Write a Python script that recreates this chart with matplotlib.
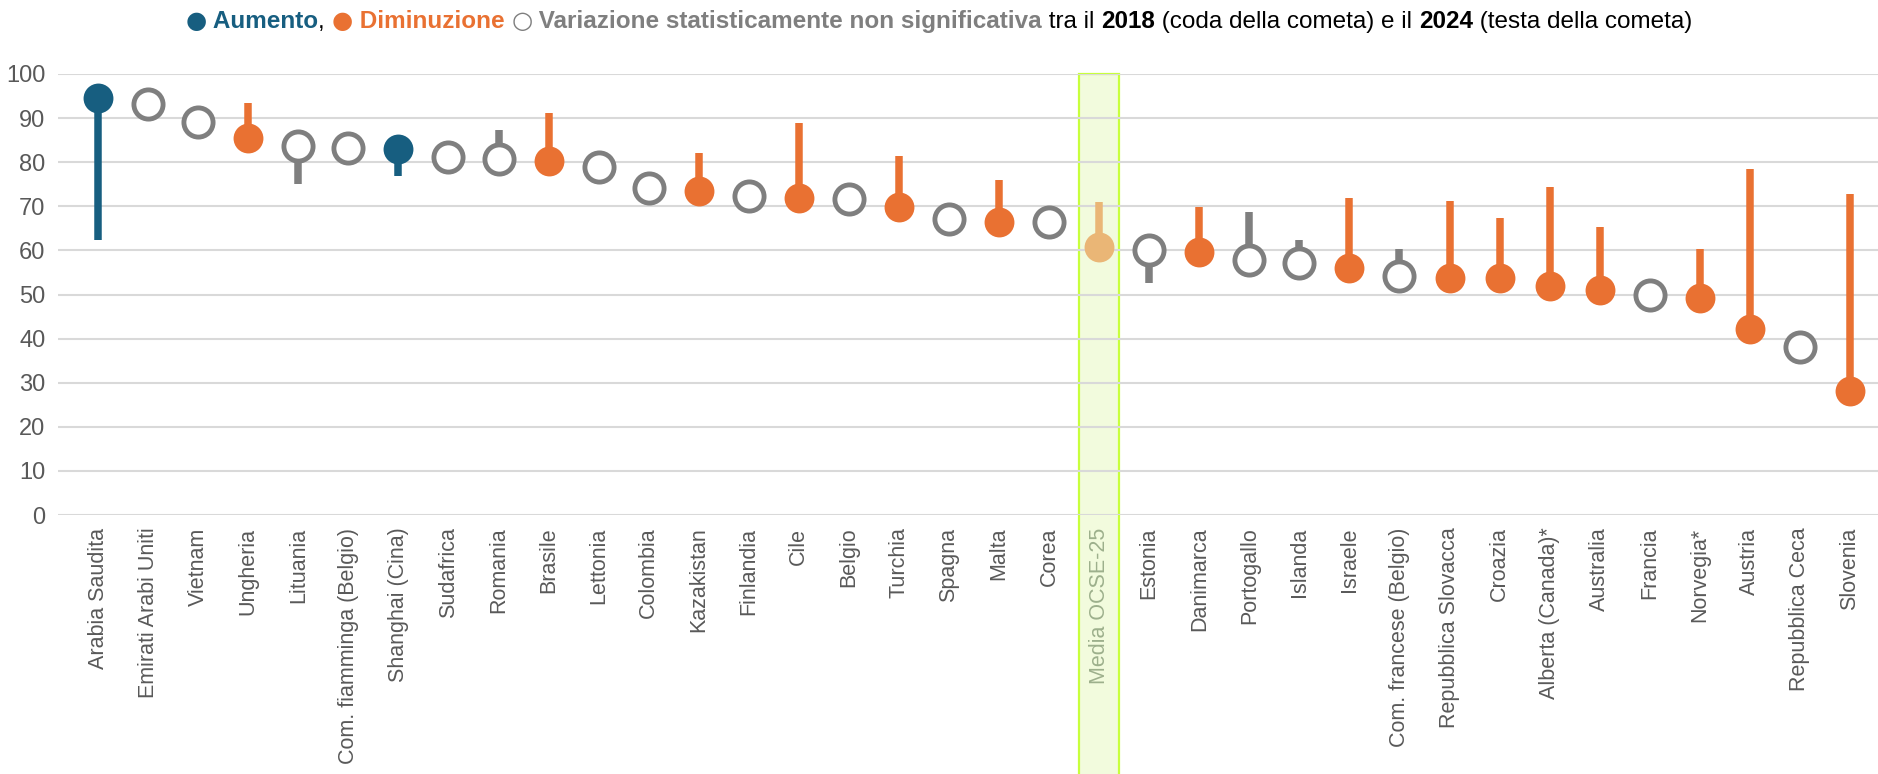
import numpy as np
import matplotlib
matplotlib.use("Agg")
import matplotlib.pyplot as plt
from matplotlib import font_manager
from matplotlib.patches import Rectangle
from matplotlib.offsetbox import TextArea, HPacker, AnchoredOffsetbox

# Comet chart: tail = 2018 value, head = 2024 value

countries = [
    "Arabia Saudita", "Emirati Arabi Uniti", "Vietnam", "Ungheria", "Lituania",
    "Com. fiamminga (Belgio)", "Shanghai (Cina)", "Sudafrica", "Romania", "Brasile",
    "Lettonia", "Colombia", "Kazakistan", "Finlandia", "Cile", "Belgio", "Turchia",
    "Spagna", "Malta", "Corea", "Media OCSE-25", "Estonia", "Danimarca", "Portogallo",
    "Islanda", "Israele", "Com. francese (Belgio)", "Repubblica Slovacca", "Croazia",
    "Alberta (Canada)*", "Australia", "Francia", "Norvegia*", "Austria",
    "Repubblica Ceca", "Slovenia",
]
score_2018 = [
    62.3, 93.3, 89.2, 93.5, 75.0, 83.3, 76.8, 81.2, 87.3, 91.1,
    79.0, 74.1, 82.0, 72.4, 88.9, 71.6, 81.5, 67.1, 76.0, 66.5,
    70.9, 52.6, 69.8, 68.7, 62.3, 71.9, 60.3, 71.2, 67.3, 74.3,
    65.2, 49.9, 60.3, 78.5, 38.2, 72.7,
]
score_2024 = [
    94.6, 93.3, 89.2, 85.6, 83.6, 83.3, 82.9, 81.2, 80.8, 80.2,
    79.0, 74.1, 73.4, 72.4, 71.8, 71.6, 69.9, 67.1, 66.5, 66.5,
    60.8, 60.0, 59.7, 57.8, 57.2, 56.1, 54.1, 53.8, 53.7, 52.0,
    51.0, 49.9, 49.3, 42.2, 38.2, 28.2,
]
trend = [
    "up", "ns", "ns", "down", "ns", "ns", "up", "ns", "ns", "down",
    "ns", "ns", "down", "ns", "down", "ns", "down", "ns", "down", "ns",
    "avg", "ns", "down", "ns", "ns", "down", "ns", "down", "down", "down",
    "down", "ns", "down", "down", "ns", "down",
]

colors = {"up": "#175E80", "down": "#E97132", "ns": "#7F7F7F", "avg": "#EAB676"}

installed = {f.name for f in font_manager.fontManager.ttflist}
narrow = "Liberation Sans Narrow" if "Liberation Sans Narrow" in installed else "Liberation Sans"
title_fs = 20 if narrow == "Liberation Sans Narrow" else 17.5

fig = plt.figure(figsize=(18.78, 7.74), dpi=100)
ax = fig.add_axes([0.0309, 0.3346, 0.9691, 0.5698])

x = np.arange(len(countries))
for xi, y0, y1, t in zip(x, score_2018, score_2024, trend):
    c = colors[t]
    ax.plot([xi, xi], [y0, y1], color=c, lw=5.4, solid_capstyle="butt",
            zorder=3, clip_on=False)
    if t == "ns":
        ax.plot(xi, y1, "o", ms=21, mfc="white", mec=c, mew=3.5,
                zorder=4, clip_on=False)
    else:
        ax.plot(xi, y1, "o", ms=21.5, mfc=c, mec=c, mew=0,
                zorder=4, clip_on=False)

# highlight column for the OECD average
avg_i = countries.index("Media OCSE-25")
ax.add_patch(Rectangle((avg_i - 0.4, -70), 0.8, 170, facecolor="#F2FBDD",
                       edgecolor="#C8FF3C", lw=1.6, zorder=0, clip_on=False))

ax.set_xlim(-0.8, 35.56)
ax.set_ylim(0, 100)
ax.set_yticks(range(0, 101, 10))
ax.set_axisbelow(True)
ax.grid(axis="y", color="#D9D9D9", lw=1.5)
ax.grid(axis="x", visible=False)
for s in ax.spines.values():
    s.set_visible(False)

ax.set_xticks(x)
ax.set_xticklabels(countries, rotation=90, fontsize=15.5, family="Liberation Sans",
                   color="#595959", va="top", ha="center")
ax.get_xticklabels()[avg_i].set_color("#9DB08C")
ax.tick_params(axis="x", length=0, pad=9)
ax.tick_params(axis="y", length=0, pad=9, labelsize=17, labelcolor="#595959")
for lab in ax.get_yticklabels():
    lab.set_family(narrow)

# legend line at the top, built from coloured pieces
parts = [
    ("\u25cf", colors["up"], "normal", ["DejaVu Sans"]),
    (" Aumento", colors["up"], "bold", [narrow]),
    (", ", "black", "normal", [narrow]),
    ("\u25cf", colors["down"], "normal", ["DejaVu Sans"]),
    (" Diminuzione ", colors["down"], "bold", [narrow]),
    ("\u25cb", "#7F7F7F", "normal", ["DejaVu Sans"]),
    (" Variazione statisticamente non significativa", "#7F7F7F", "bold", [narrow]),
    (" tra il ", "black", "normal", [narrow]),
    ("2018", "black", "bold", [narrow]),
    (" (coda della cometa) e il ", "black", "normal", [narrow]),
    ("2024", "black", "bold", [narrow]),
    (" (testa della cometa)", "black", "normal", [narrow]),
]
boxes = [TextArea(t, textprops=dict(color=c, fontweight=w, family=f, size=title_fs))
         for t, c, w, f in parts]
row = HPacker(children=boxes, align="baseline", pad=0, sep=0)
fig.add_artist(AnchoredOffsetbox(loc="upper center", child=row, pad=0, borderpad=0,
                                 frameon=False, bbox_to_anchor=(0.5, 0.988),
                                 bbox_transform=fig.transFigure))

fig.savefig("out.png", dpi=100)
plt.close()
